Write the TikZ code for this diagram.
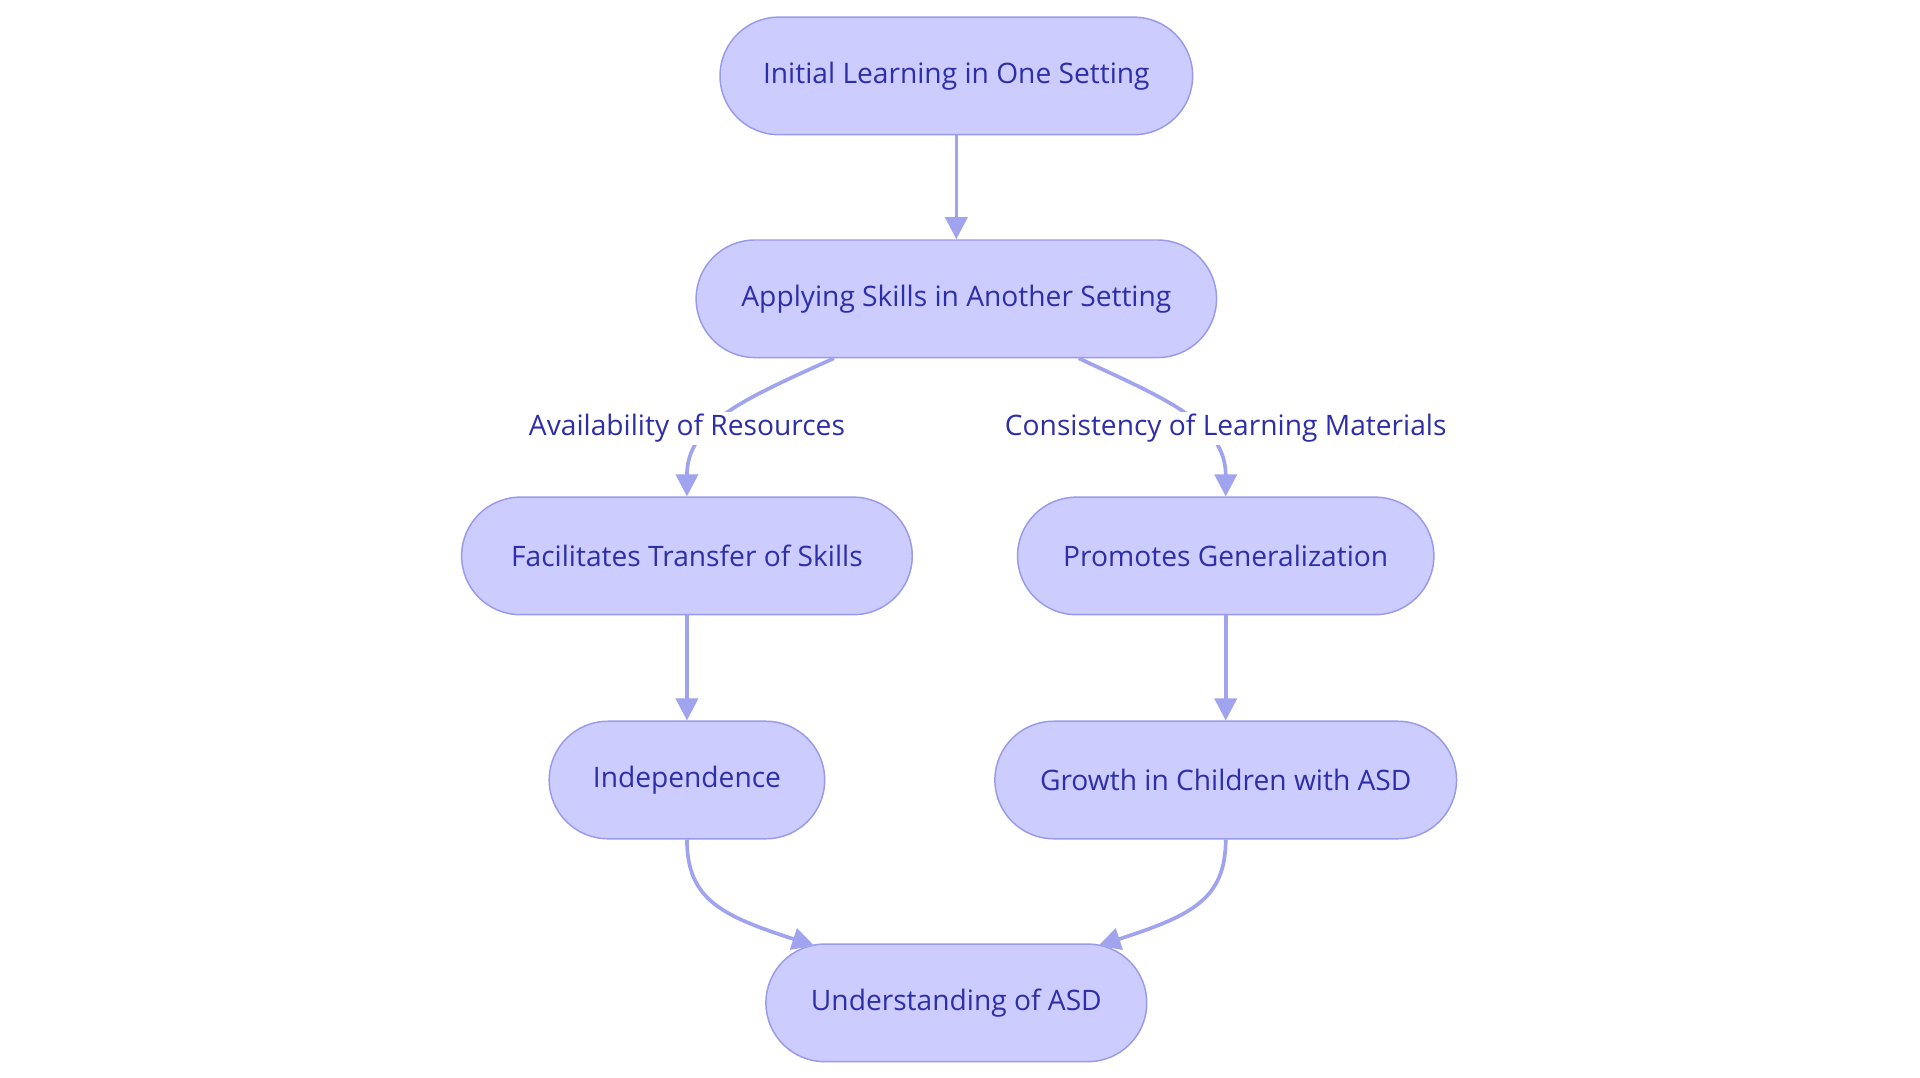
\documentclass[tikz,border=0pt]{standalone}
\usepackage{fontspec}
\setmainfont{Open Sans}
\usetikzlibrary{arrows.meta,calc}
\definecolor{nfill}{HTML}{CCCCFF}
\definecolor{nbord}{HTML}{9A9AEA}
\definecolor{ntext}{HTML}{2E2EA8}
\definecolor{edge}{HTML}{A0A4EE}
\tikzset{
 box/.style={draw=nbord,fill=nfill,line width=1.2pt,rounded corners=48pt,minimum height=96pt,text=ntext,font=\fontsize{23}{28}\selectfont,inner sep=0pt},
 conn/.style={draw=edge,line width=3pt,-{Triangle[length=18pt,width=18pt]}},
 lbl/.style={fill=white,text=ntext,font=\fontsize{23}{28}\selectfont,inner sep=2pt}
}
\begin{document}
\begin{tikzpicture}[x=1pt,y=-1pt]
\useasboundingbox[fill=white] (0,0) rectangle (1568,880);
\node[box,minimum width=386pt] (a) at (781,62) {Initial Learning in One Setting};
\node[box,minimum width=425pt] (b) at (781,244) {Applying Skills in Another Setting};
\node[box,minimum width=368pt] (c) at (561,454) {Facilitates Transfer of Skills};
\node[box,minimum width=340pt] (d) at (1001,454) {Promotes Generalization};
\node[box,minimum width=225pt] (e) at (561,637) {Independence};
\node[box,minimum width=377pt] (f) at (1001,637) {Growth in Children with ASD};
\node[box,minimum width=311pt] (g) at (781,819) {Understanding of ASD};
\draw[conn] (a) -- (b);
\draw[conn] ($(b.south)+(-100,0)$) .. controls (610,325) and (561,345) .. (c.north);
\draw[conn] ($(b.south)+(100,0)$) .. controls (950,325) and (1001,345) .. (d.north);
\node[lbl] (l1) at (561,350) {Availability of Resources};
\node[lbl] (l2) at (1001,350) {Consistency of Learning Materials};
\draw[conn] (c) -- (e);
\draw[conn] (d) -- (f);
\draw[conn] (e.south) .. controls (561,735) and (590,748) .. ($(g.north)+(-116,2)$);
\draw[conn] (f.south) .. controls (1001,735) and (972,748) .. ($(g.north)+(116,2)$);
\end{tikzpicture}
\end{document}
